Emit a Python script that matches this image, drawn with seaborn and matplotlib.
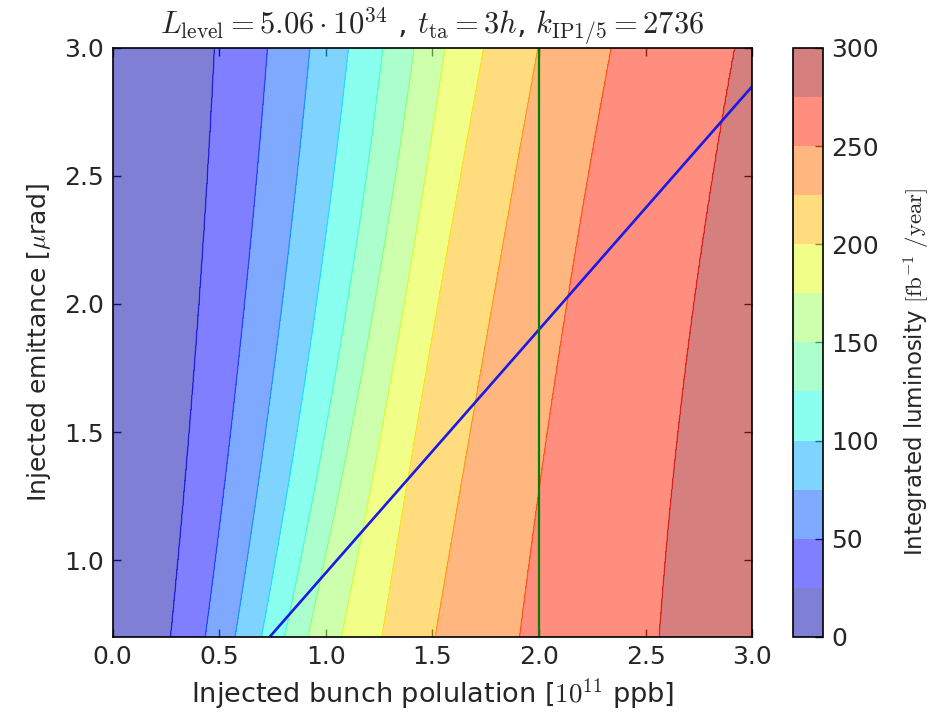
import numpy as np
import matplotlib
matplotlib.use("Agg")
import matplotlib.pyplot as plt
import seaborn as sns

# Contour levels of integrated luminosity [fb^-1/year]
levels = [0, 25, 50, 75, 100, 125, 150, 175, 200, 225, 250, 275, 300]

# Emittance rows at which the level boundaries are tabulated [urad]
emit_rows = [0.738, 1.832, 2.957]

# Bunch population [1e11 ppb] where luminosity crosses 25, 50, ..., 275
bounds_low = [0.277, 0.441, 0.582, 0.707, 0.816, 0.925, 1.082, 1.270, 1.520, 1.914, 2.567]
bounds_mid = [0.391, 0.598, 0.770, 0.926, 1.067, 1.192, 1.332, 1.490, 1.746, 2.098, 2.700]
bounds_high = [0.476, 0.723, 0.921, 1.101, 1.262, 1.407, 1.551, 1.731, 1.985, 2.328, 2.910]

# Working-point lines
scan_x = [0.0, 3.0]
scan_y = [0.0, 2.85]
nominal_pop = 2.0

xlim = (0.0, 3.0)
ylim = (0.7, 3.0)

sns.set_theme(style="white")
plt.rcParams.update({
    "font.family": ["DejaVu Sans"],
    "mathtext.fontset": "cm",
    "xtick.direction": "in",
    "ytick.direction": "in",
    "xtick.top": True,
    "ytick.right": True,
    "xtick.major.size": 6,
    "ytick.major.size": 6,
    "xtick.major.width": 1,
    "ytick.major.width": 1,
    "xtick.bottom": True,
    "ytick.left": True,
    "axes.edgecolor": "black",
    "axes.linewidth": 1.2,
    "axes.grid": False,
})

# Build the luminosity map on a grid from the tabulated boundaries
xg = np.linspace(xlim[0], xlim[1], 400)
yg = np.linspace(ylim[0], ylim[1], 300)
table = np.array([bounds_low, bounds_mid, bounds_high])
coefs = [np.polyfit(emit_rows, table[:, k], 2) for k in range(table.shape[1])]
Z = np.empty((yg.size, xg.size))
for i, yv in enumerate(yg):
    bx = [np.polyval(c, yv) for c in coefs]
    xp = [-0.01] + bx + [3.01]
    fp = [levels[0]] + levels[1:-1] + [levels[-1]]
    Z[i] = np.interp(xg, xp, fp)
X, Y = np.meshgrid(xg, yg)

fig = plt.figure(figsize=(9.38, 7.14), dpi=100)
ax = fig.add_axes([0.12, 0.108, 0.682, 0.825])
cax = fig.add_axes([0.845, 0.108, 0.032, 0.825])

norm = matplotlib.colors.Normalize(vmin=levels[0], vmax=levels[-1])
cf = ax.contourf(X, Y, Z, levels=levels, cmap="jet", norm=norm, alpha=0.5)
ax.contour(X, Y, Z, levels=levels[1:-1], cmap="jet", norm=norm, alpha=0.5, linewidths=1.0)

sns.lineplot(x=scan_x, y=scan_y, ax=ax, color="#1a1ae6", linewidth=1.9)
ax.axvline(nominal_pop, color="green", linewidth=1.6)

ax.set_xlim(*xlim)
ax.set_ylim(*ylim)
ax.set_xticks(np.arange(0, 3.01, 0.5))
ax.set_yticks([1.0, 1.5, 2.0, 2.5, 3.0])
ax.xaxis.set_major_formatter(matplotlib.ticker.FormatStrFormatter("%.1f"))
ax.yaxis.set_major_formatter(matplotlib.ticker.FormatStrFormatter("%.1f"))
ax.tick_params(labelsize=18, pad=6)
for s in ax.spines.values():
    s.set_color("black")
    s.set_linewidth(1.2)

ax.set_xlabel(r"Injected bunch polulation [$10^{11}$ ppb]", fontsize=19.5, labelpad=5)
ax.set_ylabel(r"Injected emittance [$\mu$rad]", fontsize=18, labelpad=8)
ax.set_title(r"$L_{\rm level}=5.06\cdot10^{34}$ , $t_{\rm ta}=3h$, $k_{\rm IP1/5}=2736$",
             fontsize=22, pad=5)

cb = fig.colorbar(cf, cax=cax, ticks=np.arange(0, 301, 50))
cb.outline.set_edgecolor("black")
cb.outline.set_linewidth(1.2)
cax.tick_params(labelsize=18, direction="in", length=6, width=1, right=True, left=False, pad=6)
cb.set_label(r"Integrated luminosity $[\mathrm{fb}^{-1}\ /\mathrm{year}]$", fontsize=16.5)
cax.yaxis.set_label_coords(3.65, 0.45)

fig.savefig("out.png", dpi=100)
